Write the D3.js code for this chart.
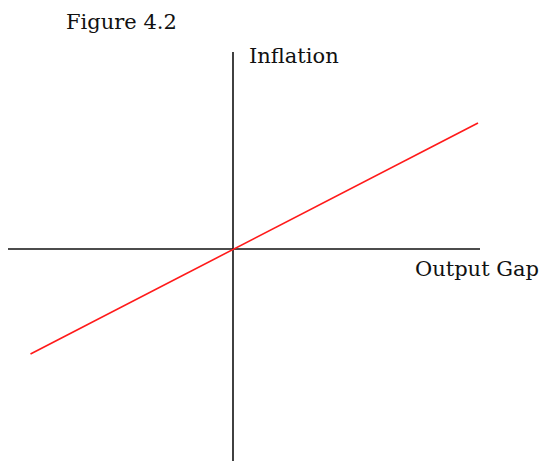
<!DOCTYPE html>
<html>
<head>
<meta charset="utf-8">
<script src="https://cdn.jsdelivr.net/npm/d3@7"></script>
<style>
  html, body { margin: 0; padding: 0; background: #fff; }
  text { font-family: "DejaVu Serif", serif; fill: #111; }
</style>
</head>
<body>
<div id="chart"></div>
<script>
// Schematic Phillips-curve style figure: abstract units, origin at the axes crossing
const titleText = 'Figure 4.2';
const xLabel = 'Output Gap';
const yLabel = 'Inflation';

const xAxisExtent = [-4.5, 4.94];   // horizontal axis span
const yAxisExtent = [-4.24, 3.94];  // vertical axis span
const curveX = [-4.05, 4.9];        // red line endpoints (output gap)
const curveY = [-2.1, 2.52];        // red line endpoints (inflation)

const width = 540, height = 461;
const unit = 50;
const origin = { x: 233, y: 249 };

const svg = d3.select('#chart')
  .append('svg')
  .attr('width', width)
  .attr('height', height)
  .attr('viewBox', `0 0 ${width} ${height}`);

const xScale = d3.scaleLinear()
  .domain([0, 1])
  .range([origin.x, origin.x + unit]);
const yScale = d3.scaleLinear()
  .domain([0, 1])
  .range([origin.y, origin.y - unit]);

const g = svg.append('g');

// axes
g.append('line')
  .attr('x1', xScale(xAxisExtent[0]))
  .attr('x2', xScale(xAxisExtent[1]))
  .attr('y1', yScale(0))
  .attr('y2', yScale(0))
  .attr('stroke', '#111')
  .attr('stroke-width', 1.6);

g.append('line')
  .attr('x1', xScale(0))
  .attr('x2', xScale(0))
  .attr('y1', yScale(yAxisExtent[0]))
  .attr('y2', yScale(yAxisExtent[1]))
  .attr('stroke', '#111')
  .attr('stroke-width', 1.6);

// curve
const points = curveX.map((x, i) => [x, curveY[i]]);
const line = d3.line()
  .x((d) => xScale(d[0]))
  .y((d) => yScale(d[1]));

g.append('path')
  .datum(points)
  .attr('fill', 'none')
  .attr('stroke', '#ff1a1a')
  .attr('stroke-width', 1.6)
  .attr('d', line);

// labels
svg.append('text')
  .attr('x', 66)
  .attr('y', 29)
  .attr('font-size', 21)
  .text(titleText);

svg.append('text')
  .attr('x', 249)
  .attr('y', 63)
  .attr('font-size', 21)
  .text(yLabel);

svg.append('text')
  .attr('x', 415)
  .attr('y', 276)
  .attr('font-size', 21)
  .text(xLabel);
</script>
</body>
</html>
